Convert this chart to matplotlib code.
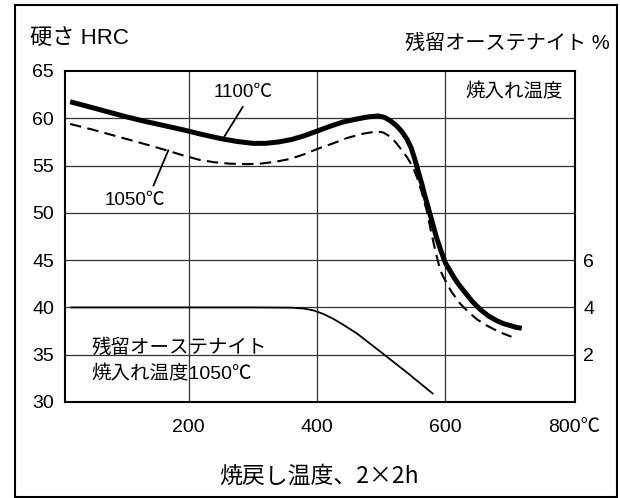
import matplotlib
matplotlib.use("Agg")
import matplotlib.pyplot as plt
from matplotlib.patches import Rectangle

plt.rcParams['font.family'] = ['Liberation Sans', 'Noto Sans CJK JP']

# tempering temperature (C) vs hardness HRC
temp_1100 = [15, 40, 70, 100, 130, 160, 190, 220, 250, 275, 300, 320, 340, 360, 380, 400, 420, 440, 460, 480, 495,
             505, 515, 524, 532, 540, 547, 553, 558, 563, 568, 573, 580, 586, 593, 600, 607, 614, 621, 628, 641,
             654, 667, 680, 690, 700, 710, 719]
hrc_1100 = [61.75, 61.3, 60.75, 60.2, 59.7, 59.25, 58.8, 58.3, 57.85, 57.55, 57.35, 57.35, 57.5, 57.75, 58.15, 58.65,
            59.15, 59.6, 59.9, 60.15, 60.25, 60.1, 59.7, 59.2, 58.6, 57.8, 56.8, 55.5, 54.3, 53.1, 51.8, 50.6, 48.9,
            47.4, 46.0, 44.7, 43.9, 43.1, 42.4, 41.8, 40.7, 39.8, 39.1, 38.6, 38.3, 38.1, 37.9, 37.8]

temp_1050 = [15, 50, 90, 130, 166, 190, 217, 240, 264, 290, 311, 335, 358, 380, 402, 425, 446, 470, 492, 503, 513,
             522, 530, 540, 549, 556, 563, 571, 578, 585, 592, 600, 610, 623, 636, 650, 664, 684, 703]
hrc_1050 = [59.4, 58.8, 58.05, 57.3, 56.6, 56.1, 55.6, 55.35, 55.2, 55.15, 55.2, 55.4, 55.7, 56.2, 56.8, 57.35, 57.9,
            58.35, 58.6, 58.5, 58.1, 57.5, 56.8, 55.9, 54.9, 53.7, 52.2, 50.2, 47.9, 45.8, 43.9, 42.8, 41.6, 40.4,
            39.5, 38.7, 38.1, 37.4, 36.9]

# retained austenite %, hardened at 1050C
temp_ra = [17, 100, 200, 300, 360, 380, 395, 410, 425, 440, 462, 500, 540, 580]
ra_pct = [4.0, 4.0, 4.0, 4.0, 3.99, 3.95, 3.87, 3.72, 3.52, 3.28, 2.9, 2.1, 1.25, 0.36]

x_ticks = [200, 400, 600, 800]
x_labels = ['200', '400', '600', '800℃']
y_ticks = [30, 35, 40, 45, 50, 55, 60, 65]
ra_ticks = [2, 4, 6]

W, H = 620, 498
fig = plt.figure(figsize=(W / 100, H / 100), dpi=100)

def fx(px):
    return px / W

def fy(py):
    return 1 - py / H

# outer frame
fig.patches.append(Rectangle((fx(14.5), fy(497)), fx(616.5) - fx(14.5), fy(5.5) - fy(497),
                             transform=fig.transFigure, fill=False, lw=1.5, ec='black'))

ax = fig.add_axes([fx(65), fy(402), fx(575) - fx(65), fy(71) - fy(402)])
ax.set_xlim(7, 802)
ax.set_ylim(30, 65)
ax.set_yticks(y_ticks)
ax.set_xticks(x_ticks)
ax.set_xticklabels(x_labels)
ax.tick_params(axis='both', length=0, labelsize=14)
ax.tick_params(axis='y', pad=8)
ax.tick_params(axis='x', pad=12)
for v in [200, 400, 600]:
    ax.axvline(v, color='#333333', lw=0.9, zorder=1)
for v in [35, 40, 45, 50, 55, 60]:
    ax.axhline(v, color='#333333', lw=0.9, zorder=1)
for s in ax.spines.values():
    s.set_linewidth(1.5)

ax.plot(temp_1100, hrc_1100, color='black', lw=3.6, solid_capstyle='butt', solid_joinstyle='round', zorder=4)
ax.plot(temp_1050, hrc_1050, color='black', lw=1.5, dashes=(5.5, 3), zorder=3)

ax2 = ax.twinx()
ax2.set_ylim(0, 14)
ax2.set_yticks(ra_ticks)
ax2.tick_params(axis='y', length=0, labelsize=14, pad=6)
for s in ax2.spines.values():
    s.set_visible(False)
ax2.plot(temp_ra, ra_pct, color='black', lw=1.3, zorder=3)

# annotations
ax.text(284, 62.7, '1100℃', fontsize=13.5, ha='center', va='center')
ax.plot([284, 253], [61.2, 57.8], color='black', lw=1.3)
ax.text(116, 51.3, '1050℃', fontsize=13.5, ha='center', va='center')
ax.plot([168, 145], [56.6, 52.9], color='black', lw=1.3)
ax.text(783, 62.7, '焼入れ温度', fontsize=14, ha='right', va='center')
ax.text(48, 35.8, '残留オーステナイト', fontsize=14, ha='left', va='center')
ax.text(48, 32.9, '焼入れ温度1050℃', fontsize=14, ha='left', va='center')

fig.text(fx(30), fy(39), '硬さ HRC', fontsize=16, ha='left', va='center')
fig.text(fx(610), fy(43), '残留オーステナイト %', fontsize=14.5, ha='right', va='center')
fig.text(fx(319), fy(476), '焼戻し温度、2×2h', fontsize=16.5, ha='center', va='center',
         family=['Noto Sans CJK JP'])

fig.savefig('out.png', dpi=100)
